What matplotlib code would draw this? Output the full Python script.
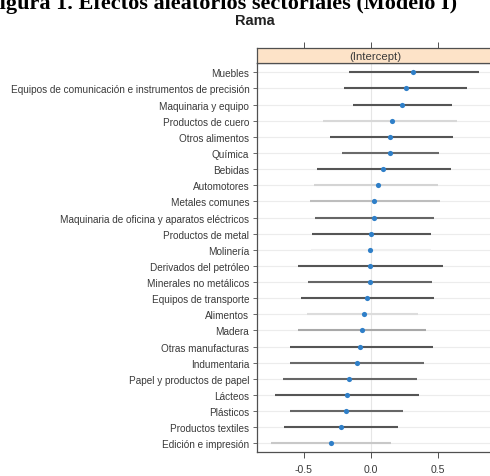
import matplotlib
matplotlib.use("Agg")
import matplotlib.pyplot as plt
from matplotlib.patches import Rectangle

# Random intercepts by sector (top to bottom) with interval bounds
sectors = [
    "Muebles",
    "Equipos de comunicación e instrumentos de precisión",
    "Maquinaria y equipo",
    "Productos de cuero",
    "Otros alimentos",
    "Química",
    "Bebidas",
    "Automotores",
    "Metales comunes",
    "Maquinaria de oficina y aparatos eléctricos",
    "Productos de metal",
    "Molinería",
    "Derivados del petróleo",
    "Minerales no metálicos",
    "Equipos de transporte",
    "Alimentos",
    "Madera",
    "Otras manufacturas",
    "Indumentaria",
    "Papel y productos de papel",
    "Lácteos",
    "Plásticos",
    "Productos textiles",
    "Edición e impresión",
]
intercept = [0.318, 0.259, 0.231, 0.157, 0.145, 0.145, 0.091, 0.051, 0.027, 0.025,
             0.000, -0.005, -0.003, -0.005, -0.025, -0.049, -0.067, -0.079, -0.104,
             -0.160, -0.179, -0.187, -0.225, -0.297]
lower = [-0.160, -0.204, -0.134, -0.354, -0.306, -0.215, -0.403, -0.428, -0.453, -0.416,
         -0.436, -0.450, -0.543, -0.470, -0.522, -0.478, -0.545, -0.605, -0.602,
         -0.657, -0.716, -0.607, -0.646, -0.744]
upper = [0.811, 0.721, 0.609, 0.642, 0.615, 0.511, 0.601, 0.505, 0.517, 0.472,
         0.448, 0.450, 0.542, 0.455, 0.472, 0.355, 0.410, 0.463, 0.399,
         0.343, 0.357, 0.238, 0.206, 0.151]
x_ticks = [-0.5, 0.0, 0.5]
x_ticklabels = ["-0.5", "0.0", "0.5"]

# segment shades (rendered weight of each interval line)
seg_shade = ["#555555", "#555555", "#555555", "#d8d8d8", "#555555", "#6a6a6a",
             "#555555", "#d4d4d4", "#bdbdbd", "#666666", "#555555", "#f0f0f0",
             "#555555", "#666666", "#555555", "#dcdcdc", "#a8a8a8", "#555555",
             "#6a6a6a", "#666666", "#555555", "#666666", "#555555", "#c8c8c8"]

W, H = 490, 477
fig = plt.figure(figsize=(W / 100, H / 100), dpi=100)
fig.patch.set_facecolor("white")

frame_col = "#505050"
text_col = "#3a3a3a"

n = len(sectors)
ypos = list(range(n, 0, -1))

ax = fig.add_axes([257 / W, 1 - 453 / H, 236 / W, (453 - 64) / H])
ax.set_xlim(-0.85, 0.912)
ax.set_ylim(0.46, n + 0.58)

# row guide lines and zero reference
for y in ypos:
    ax.axhline(y, color="#ececec", lw=0.8, zorder=1)
ax.axvline(0.0, color="#e6e6e6", lw=0.8, zorder=1)

for y, lo, hi, c in zip(ypos, lower, upper, seg_shade):
    ax.plot([lo, hi], [y, y], color=c, lw=1.5, solid_capstyle="butt", zorder=2)
ax.scatter(intercept, ypos, s=14, color="#2f7fc8", zorder=3, linewidths=0)

ax.set_yticks(ypos)
ax.set_yticklabels(sectors, fontsize=7.2, color=text_col, family="Liberation Sans")
ax.tick_params(axis="y", length=3, width=0.6, color=frame_col, pad=2.5)
ax.set_xticks(x_ticks)
ax.set_xticklabels(x_ticklabels, fontsize=7.6, color=text_col, family="Liberation Sans")
ax.tick_params(axis="x", length=4, width=0.7, color=frame_col, pad=5)
for side in ["left", "bottom", "top", "right"]:
    ax.spines[side].set_color(frame_col)
    ax.spines[side].set_linewidth(0.9)

# strip with the term name
sx = fig.add_axes([257 / W, 1 - 64 / H, 236 / W, 15 / H])
sx.set_xlim(ax.get_xlim())
sx.set_ylim(0, 1)
sx.add_patch(Rectangle((-0.85, 0), 2, 1, facecolor="#fde3c8", edgecolor="none"))
sx.text(0.0312, 0.45, "(Intercept)", ha="center", va="center", fontsize=8.2,
        color=text_col, family="Liberation Sans")
sx.set_xticks(x_ticks)
sx.set_yticks([])
sx.xaxis.tick_top()
sx.tick_params(axis="x", length=4, width=0.7, color=frame_col, labeltop=False)
for side in ["left", "bottom", "top", "right"]:
    sx.spines[side].set_color(frame_col)
    sx.spines[side].set_linewidth(0.9)

fig.text(255 / W, 1 - 21 / H, "Rama", ha="center", va="center", fontsize=10.5,
         fontweight="bold", color="#222222", family="Liberation Sans")
fig.text(222 / W, 1 - 4 / H, "Figura 1. Efectos aleatorios sectoriales (Modelo I)",
         ha="center", va="center", fontsize=16, fontweight="bold",
         color="black", family="Liberation Serif")

fig.savefig("out.png", dpi=100, facecolor="white")
